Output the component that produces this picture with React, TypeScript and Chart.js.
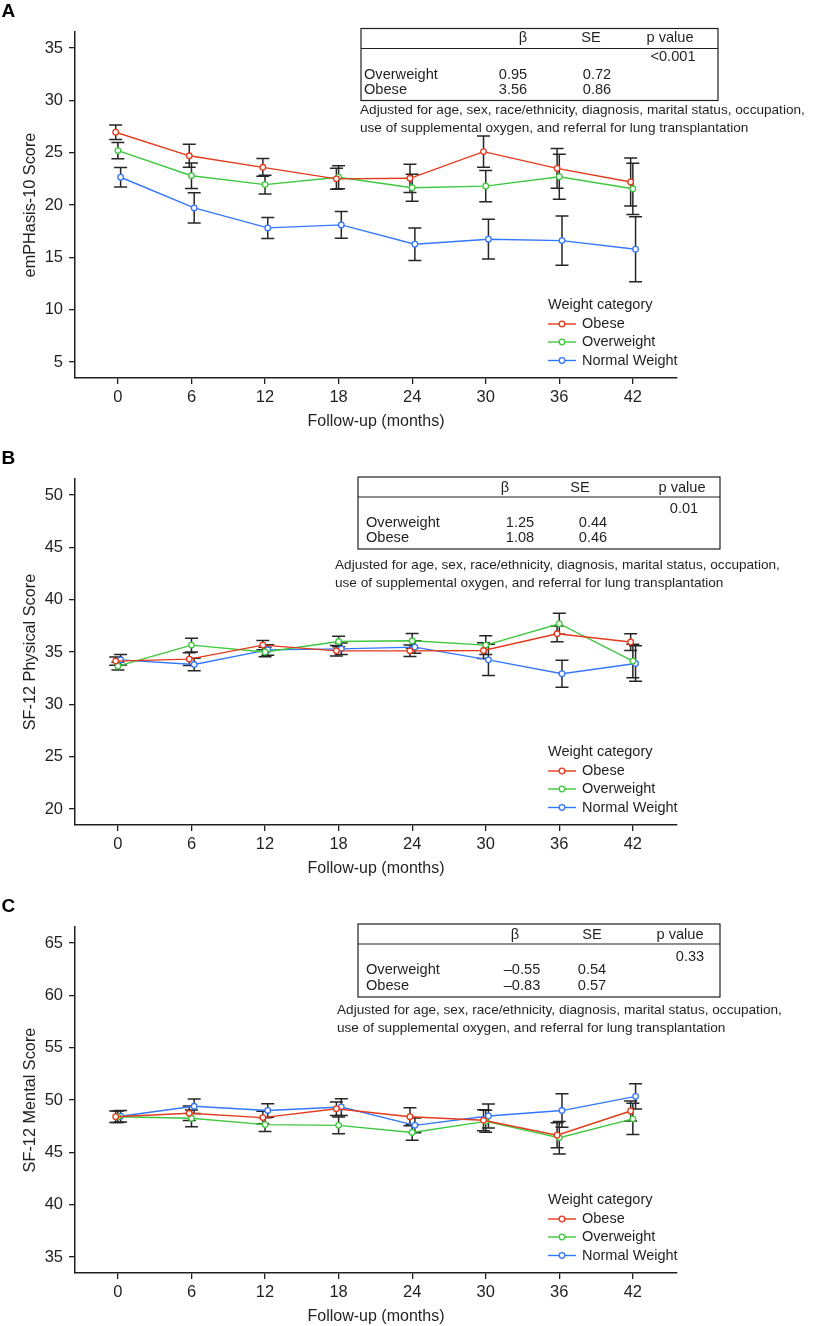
import React, { useEffect, useRef } from "react";
import { Chart, registerables } from "chart.js";

Chart.register(...registerables);

// ---------------- DATA ----------------
const months = [0, 6, 12, 18, 24, 30, 36, 42];
const xTicks = [0, 6, 12, 18, 24, 30, 36, 42];
const seriesNames = ["Obese", "Overweight", "Normal Weight"];
const jitter = [-0.18, 0, 0.22];

// Panel A – emPHasis-10
const aYTicks = [5, 10, 15, 20, 25, 30, 35];
const aObese = [26.95, 24.7, 23.6, 22.5, 22.55, 25.1, 23.5, 22.2];
const aObeseErr = [0.7, 1.1, 0.85, 1.0, 1.35, 1.5, 1.9, 2.3];
const aOver = [25.2, 22.8, 21.95, 22.65, 21.65, 21.8, 22.7, 21.55];
const aOverErr = [0.78, 1.22, 0.9, 1.1, 1.3, 1.5, 2.15, 2.45];
const aNormal = [22.65, 19.72, 17.81, 18.1, 16.25, 16.73, 16.6, 15.77];
const aNormalErr = [0.93, 1.45, 1.0, 1.28, 1.55, 1.9, 2.35, 3.1];
const aBeta = ["0.95", "3.56"];
const aSE = ["0.72", "0.86"];
const aP = "<0.001";

// Panel B – SF-12 Physical
const bYTicks = [20, 25, 30, 35, 40, 45, 50];
const bObese = [34.13, 34.32, 35.66, 35.11, 35.11, 35.14, 36.74, 35.95];
const bObeseErr = [0.4, 0.6, 0.45, 0.5, 0.55, 0.75, 0.75, 0.8];
const bOver = [33.65, 35.66, 35.0, 36.0, 36.07, 35.66, 37.7, 34.13];
const bOverErr = [0.38, 0.65, 0.45, 0.5, 0.7, 0.9, 1.0, 1.6];
const bNormal = [34.25, 33.8, 35.2, 35.3, 35.47, 34.25, 32.92, 33.9];
const bNormalErr = [0.5, 0.6, 0.5, 0.55, 0.6, 1.5, 1.3, 1.7];
const bBeta = ["1.25", "1.08"];
const bSE = ["0.44", "0.46"];
const bP = "0.01";

// Panel C – SF-12 Mental
const cYTicks = [35, 40, 45, 50, 55, 60, 65];
const cObese = [48.4, 48.73, 48.32, 49.17, 48.4, 48.06, 46.63, 48.95];
const cObeseErr = [0.55, 0.7, 0.6, 0.65, 0.85, 1.0, 1.2, 0.95];
const cOver = [48.4, 48.25, 47.65, 47.58, 46.9, 47.96, 46.4, 48.2];
const cOverErr = [0.55, 0.8, 0.65, 0.8, 0.75, 1.05, 1.55, 1.5];
const cNormal = [48.45, 49.4, 49.0, 49.33, 47.58, 48.47, 48.99, 50.35];
const cNormalErr = [0.55, 0.7, 0.65, 0.8, 0.7, 1.15, 1.6, 1.2];
const cBeta = ["\u20130.55", "\u20130.83"];
const cSE = ["0.54", "0.57"];
const cP = "0.33";

const tableHeaders = ["\u03B2", "SE", "p value"];
const rowLabels = ["Overweight", "Obese"];
const noteLines = [
  "Adjusted for age, sex, race/ethnicity, diagnosis, marital status, occupation,",
  "use of supplemental oxygen, and referral for lung transplantation",
];
const legendTitle = "Weight category";
const xTitle = "Follow-up (months)";

// ---------------- STYLE / LAYOUT ----------------
const FONT = "'Liberation Sans', Arial, Helvetica, sans-serif";
const TEXT = "#231f20";
const AXIS = "#231f20";
const ERR = "#262626";
const COLORS = ["#e43a1c", "#3ec83e", "#3477ff"];
const W = 834;
const H = 432;
const PANEL_TOPS = [0, 447, 895];

const layoutA = {
  box: { left: 361, right: 718, top: 28.5, line: 48.5, bottom: 100.5 },
  headY: 38, pY: 57, rowY: [75, 90],
  headX: [523, 591, 670], valX: [513, 597, 673], rowX: 364,
  note: { x: 360, y: [110, 128] },
};
const layoutB = {
  box: { left: 358, right: 720, top: 30, line: 50, bottom: 102 },
  headY: 41, pY: 62, rowY: [75.5, 91],
  headX: [505, 580, 682], valX: [520, 593, 684], rowX: 366,
  note: { x: 335, y: [118, 136] },
};
const layoutC = {
  box: { left: 358, right: 720, top: 29, line: 49, bottom: 102 },
  headY: 40, pY: 62, rowY: [75, 91],
  headX: [515, 592, 680], valX: [522, 592, 690], rowX: 366,
  note: { x: 337, y: [115, 133] },
};

const panels = [
  {
    letter: "A", yTitle: "emPHasis-10 Score", yMin: 3.47, yMax: 36.53, yTicks: aYTicks,
    values: [aObese, aOver, aNormal], errors: [aObeseErr, aOverErr, aNormalErr],
    beta: aBeta, se: aSE, p: aP, layout: layoutA,
  },
  {
    letter: "B", yTitle: "SF-12 Physical Score", yMin: 18.47, yMax: 51.53, yTicks: bYTicks,
    values: [bObese, bOver, bNormal], errors: [bObeseErr, bOverErr, bNormalErr],
    beta: bBeta, se: bSE, p: bP, layout: layoutB,
  },
  {
    letter: "C", yTitle: "SF-12 Mental Score", yMin: 33.47, yMax: 66.53, yTicks: cYTicks,
    values: [cObese, cOver, cNormal], errors: [cObeseErr, cOverErr, cNormalErr],
    beta: cBeta, se: cSE, p: cP, layout: layoutC,
  },
];

function buildChart(canvas: HTMLCanvasElement, panel: any) {
  const L = panel.layout;
  const datasets = panel.values.map((vals: number[], i: number) => ({
    label: seriesNames[i],
    data: months.map((m, j) => ({ x: m + jitter[i], y: vals[j] })),
    borderColor: COLORS[i],
    backgroundColor: "#ffffff",
    borderWidth: 1.4,
    pointRadius: 2.8,
    pointHoverRadius: 2.8,
    pointBorderWidth: 1.3,
    pointBackgroundColor: "#ffffff",
    pointBorderColor: COLORS[i],
    fill: false,
    tension: 0,
  }));

  const overlay = {
    id: "overlay" + panel.letter,
    beforeDatasetsDraw(chart: any) {
      const { ctx } = chart;
      const xs = chart.scales.x;
      const ys = chart.scales.y;
      ctx.save();
      ctx.strokeStyle = ERR;
      ctx.lineWidth = 1.5;
      panel.values.forEach((vals: number[], i: number) => {
        vals.forEach((v, j) => {
          const e = panel.errors[i][j];
          const px = xs.getPixelForValue(months[j] + jitter[i]);
          const t = ys.getPixelForValue(v + e);
          const b = ys.getPixelForValue(v - e);
          ctx.beginPath();
          ctx.moveTo(px, t);
          ctx.lineTo(px, b);
          ctx.moveTo(px - 6.5, t);
          ctx.lineTo(px + 6.5, t);
          ctx.moveTo(px - 6.5, b);
          ctx.lineTo(px + 6.5, b);
          ctx.stroke();
        });
      });
      ctx.restore();
    },
    afterDraw(chart: any) {
      const { ctx, chartArea } = chart;
      ctx.save();
      // panel letter
      ctx.fillStyle = "#000";
      ctx.font = `bold 19px ${FONT}`;
      ctx.textBaseline = "middle";
      ctx.textAlign = "left";
      ctx.fillText(panel.letter, 1.5, 12);

      // table
      const bx = L.box;
      ctx.strokeStyle = "#231f20";
      ctx.lineWidth = 1.2;
      ctx.strokeRect(bx.left, bx.top, bx.right - bx.left, bx.bottom - bx.top);
      ctx.beginPath();
      ctx.moveTo(bx.left, bx.line);
      ctx.lineTo(bx.right, bx.line);
      ctx.stroke();
      ctx.fillStyle = TEXT;
      ctx.font = `14.6px ${FONT}`;
      ctx.textAlign = "center";
      tableHeaders.forEach((h, k) => ctx.fillText(h, L.headX[k], L.headY));
      ctx.fillText(panel.p, L.valX[2], L.pY);
      rowLabels.forEach((r, k) => {
        ctx.textAlign = "left";
        ctx.fillText(r, L.rowX, L.rowY[k]);
        ctx.textAlign = "center";
        ctx.fillText(panel.beta[k], L.valX[0], L.rowY[k]);
        ctx.fillText(panel.se[k], L.valX[1], L.rowY[k]);
      });
      // note
      ctx.font = `13.6px ${FONT}`;
      ctx.textAlign = "left";
      noteLines.forEach((ln, k) => ctx.fillText(ln, L.note.x, L.note.y[k]));

      // legend
      const lx = 548;
      const base = chartArea.bottom;
      ctx.font = `14.5px ${FONT}`;
      ctx.fillText(legendTitle, lx, base - 73);
      const rowOff = [54, 36, 17.5];
      seriesNames.forEach((n, i) => {
        const y = base - rowOff[i];
        ctx.strokeStyle = COLORS[i];
        ctx.lineWidth = 1.4;
        ctx.beginPath();
        ctx.moveTo(lx, y);
        ctx.lineTo(lx + 28, y);
        ctx.stroke();
        ctx.beginPath();
        ctx.arc(lx + 14, y, 2.8, 0, Math.PI * 2);
        ctx.fillStyle = "#fff";
        ctx.fill();
        ctx.lineWidth = 1.3;
        ctx.stroke();
        ctx.fillStyle = TEXT;
        ctx.fillText(n, lx + 34, y);
      });
      ctx.restore();
    },
  };

  const axisCommon = {
    grid: {
      display: true,
      drawOnChartArea: false,
      drawTicks: true,
      tickLength: 6,
      color: AXIS,
      lineWidth: 1.3,
    },
    border: { display: true, color: AXIS, width: 1.5 },
  };

  return new Chart(canvas, {
    type: "line",
    data: { datasets },
    plugins: [overlay],
    options: {
      animation: false,
      responsive: false,
      devicePixelRatio: 1,
      events: [],
      layout: { padding: { top: 32, right: W - 677, bottom: 0, left: 0 } },
      plugins: {
        legend: { display: false },
        tooltip: { enabled: false },
        title: { display: false },
      },
      scales: {
        x: {
          type: "linear",
          min: -3.5,
          max: 45.6,
          afterBuildTicks: (s: any) => {
            s.ticks = xTicks.map((v) => ({ value: v }));
          },
          afterFit: (s: any) => {
            s.height = H - 378;
          },
          ...axisCommon,
          ticks: {
            color: TEXT,
            font: { family: FONT, size: 16.5 },
            padding: 4,
            maxRotation: 0,
            autoSkip: false,
          },
          title: {
            display: true,
            text: xTitle,
            color: TEXT,
            font: { family: FONT, size: 16 },
            padding: { top: 0, bottom: 1 },
          },
        },
        y: {
          type: "linear",
          min: panel.yMin,
          max: panel.yMax,
          afterBuildTicks: (s: any) => {
            s.ticks = panel.yTicks.map((v: number) => ({ value: v }));
          },
          afterFit: (s: any) => {
            s.width = 75;
          },
          ...axisCommon,
          ticks: {
            color: TEXT,
            font: { family: FONT, size: 16.5 },
            padding: 6,
            autoSkip: false,
          },
          title: {
            display: true,
            text: panel.yTitle,
            color: TEXT,
            font: { family: FONT, size: 16.3 },
            padding: { top: 21, bottom: 0 },
          },
        },
      },
    },
  } as any);
}

function PanelChart({ panel }: { panel: any }) {
  const ref = useRef<HTMLCanvasElement>(null);
  useEffect(() => {
    const chart = buildChart(ref.current as HTMLCanvasElement, panel);
    return () => chart.destroy();
  }, [panel]);
  return (
    <canvas
      ref={ref}
      width={W}
      height={H}
      style={{ display: "block", width: W, height: H }}
    />
  );
}

export default function App() {
  return (
    <div
      style={{
        position: "absolute",
        left: 0,
        top: 0,
        width: W,
        height: 1326,
        background: "#fff",
        overflow: "hidden",
      }}
    >
      {panels.map((p, i) => (
        <div
          key={p.letter}
          style={{ position: "absolute", left: 0, top: PANEL_TOPS[i], width: W, height: H }}
        >
          <PanelChart panel={p} />
        </div>
      ))}
    </div>
  );
}
